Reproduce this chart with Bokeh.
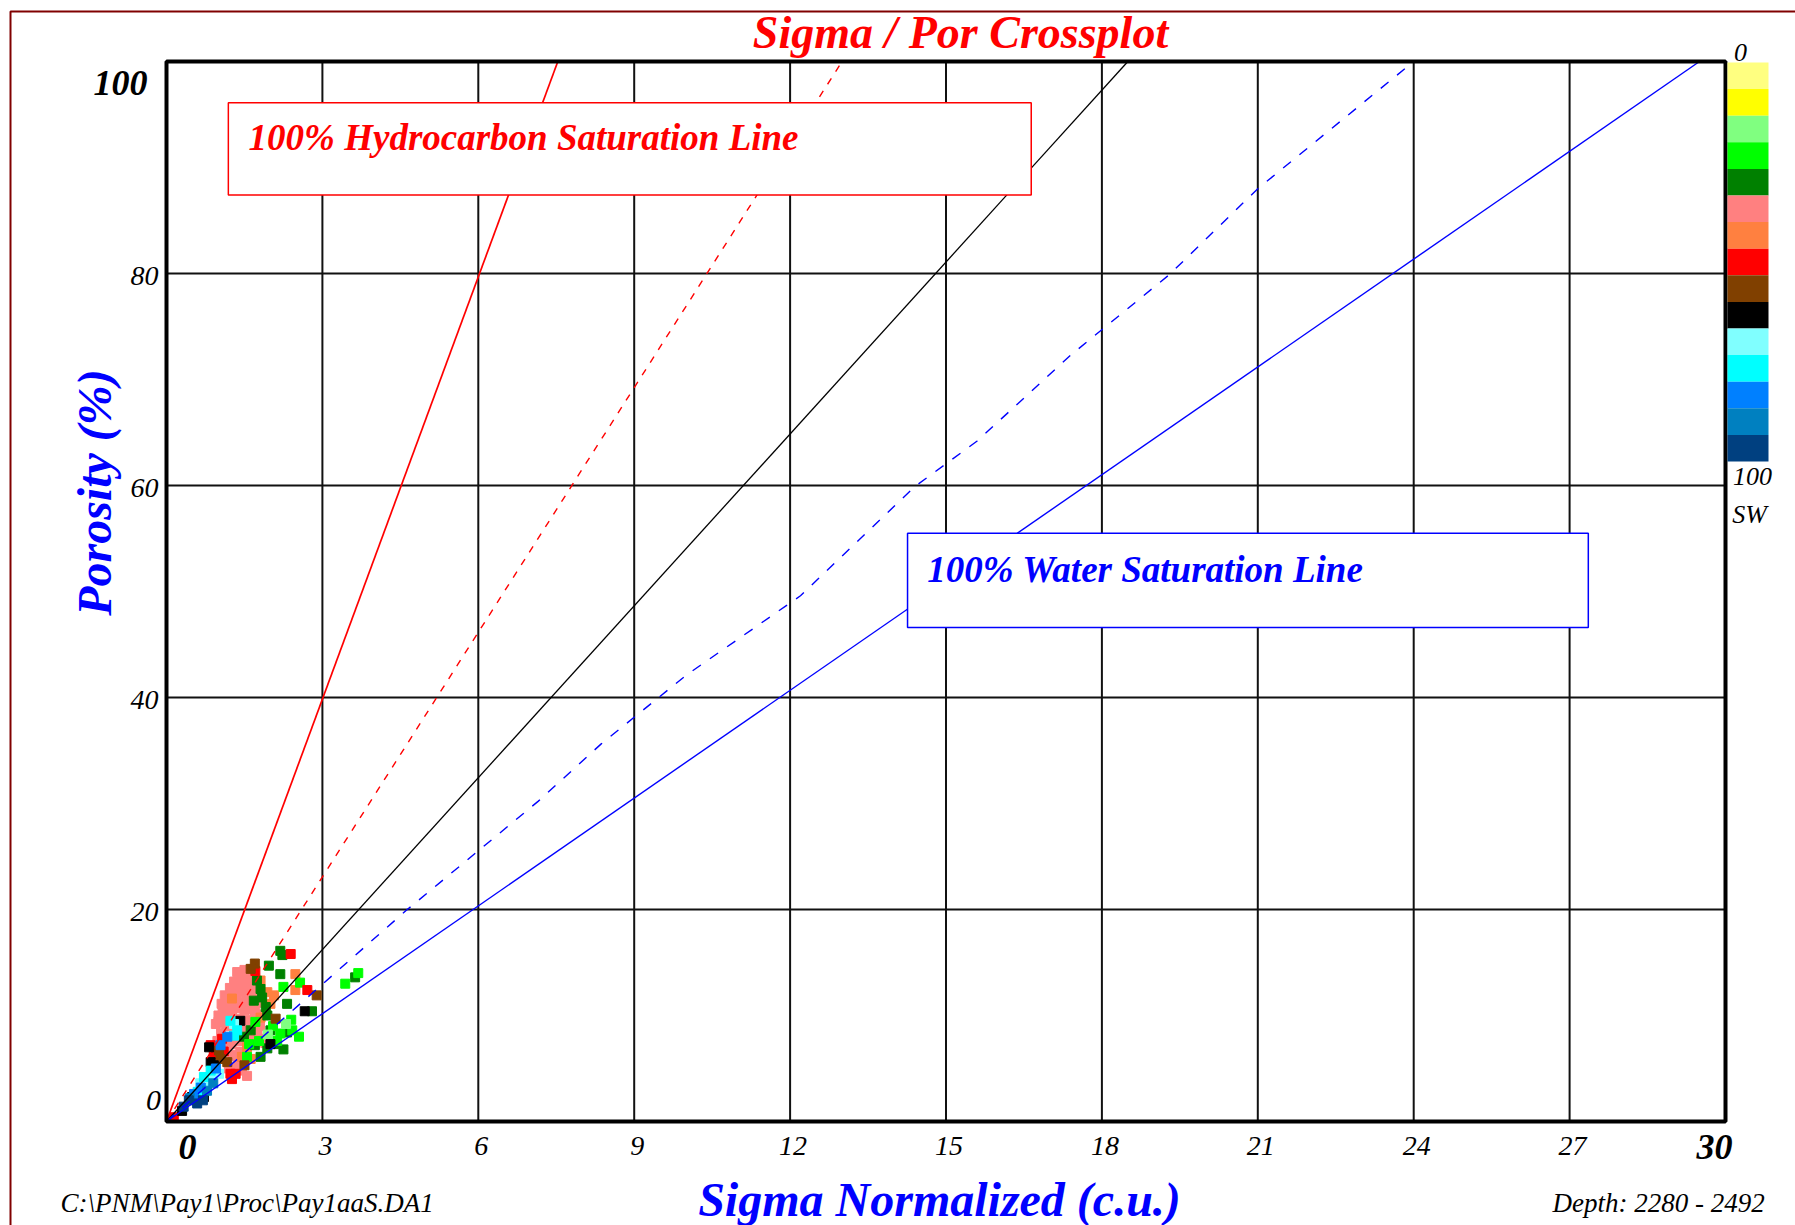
from bokeh.plotting import figure
from bokeh.models import Label, Range1d, ColumnDataSource
from bokeh.core.properties import value
from bokeh.embed import file_html
from bokeh.resources import INLINE
import math

# ---------------- data ----------------
sw_palette = ["#FFFF80", "#FFFF00", "#80FF80", "#00FF00", "#008000",
              "#FF8080", "#FF8040", "#FF0000", "#804000", "#000000",
              "#80FFFF", "#00FFFF", "#0080FF", "#0080C0", "#004080"]

x_ticks = [3, 6, 9, 12, 15, 18, 21, 24, 27]
x_tick_labels = ["3", "6", "9", "12", "15", "18", "21", "24", "27"]
y_ticks = [20, 40, 60, 80]
y_tick_labels = ["20", "40", "60", "80"]
x_min, x_max = 0, 30
y_min, y_max = 0, 100

# crossplot samples: sigma normalized (c.u.), porosity (%), SW class (index into sw_palette)
sigma = [1.30, 1.45, 1.58, 1.22, 1.36, 1.50, 1.64, 1.12, 1.26, 1.40, 1.54, 1.68, 1.06, 1.20,
         1.34, 1.48, 1.62, 1.76, 1.08, 1.22, 1.36, 1.50, 1.64, 1.12, 1.26, 1.40, 1.55, 1.70,
         1.14, 1.30, 1.46, 1.60, 1.75, 1.86, 1.90, 1.38, 1.25, 1.45, 1.55, 1.05, 0.98,
         1.00, 1.18, 1.33, 1.52, 1.42, 1.28, 1.16, 1.02, 1.36, 1.50, 1.66, 1.80,
         1.00, 0.95, 1.70, 1.85, 1.80, 1.40, 1.25, 1.55, 1.65, 1.35, 1.20,
         1.81, 1.94, 2.00, 1.26, 2.07, 1.81, 1.45, 1.62, 2.48, 2.48, 1.55,
         1.74, 1.81, 1.84, 1.91, 1.94, 1.68, 2.00, 2.07, 1.94, 1.81, 1.62, 1.49, 2.19, 2.23,
         1.97, 2.19, 2.32, 2.80, 2.32, 2.25, 3.63, 1.70,
         1.71, 1.78, 1.59, 2.19, 1.55, 2.57, 2.25, 2.42, 2.55, 2.13, 3.44, 3.69, 2.05, 2.40,
         1.95, 2.30,
         1.71, 2.71, 1.07, 0.85, 0.91, 1.33, 1.26, 1.23, 1.10, 0.14, 2.39,
         1.70, 1.62, 2.89, 2.10, 1.04, 1.01, 1.17, 1.50,
         2.66, 1.42, 0.85, 0.91, 0.82, 0.49, 0.72, 0.59, 0.30, 2.00,
         0.85, 0.65, 1.01, 0.75, 1.30,
         1.23, 1.36, 0.72, 0.85, 1.30, 0.60,
         0.66, 0.53, 1.04, 1.17, 0.95,
         0.78, 0.45, 0.90,
         0.43, 0.59, 0.33, 0.70]
porosity = [13.2, 13.5, 13.4, 12.6, 12.8, 12.9, 12.7, 11.9, 12.0, 12.2, 12.1, 12.0, 11.1, 11.3,
            11.4, 11.3, 11.5, 11.2, 10.4, 10.6, 10.7, 10.5, 10.6, 9.8, 9.9, 9.7, 9.6, 9.9,
            9.0, 8.8, 8.7, 8.9, 8.4, 7.8, 7.4, 5.4, 4.6, 4.8, 4.3, 8.3, 7.6,
            9.4, 7.9, 7.8, 7.6, 6.6, 6.3, 6.9, 6.0, 14.1, 14.3, 13.9, 12.9,
            10.0, 9.2, 10.4, 10.1, 9.0, 7.6, 7.3, 8.0, 7.7, 6.2, 5.0,
            13.3, 12.2, 11.1, 11.6, 11.9, 9.8, 6.1, 5.9, 13.9, 12.4, 7.0,
            13.3, 12.5, 11.7, 10.8, 10.0, 11.4, 8.6, 7.3, 6.9, 6.1, 8.6, 8.0, 16.1, 15.7,
            14.7, 13.9, 11.1, 10.4, 8.4, 6.8, 13.6, 7.2,
            9.4, 7.6, 7.3, 8.3, 6.1, 13.1, 12.7, 8.6, 8.0, 7.6, 13.0, 14.0, 9.0, 9.6,
            8.2, 9.2,
            14.2, 12.4, 7.8, 7.2, 6.4, 4.5, 4.0, 4.5, 6.6, 0.4, 15.8,
            14.9, 14.4, 11.9, 9.7, 5.9, 6.7, 5.6, 5.3,
            10.4, 9.5, 5.6, 5.3, 7.0, 2.3, 2.3, 2.0, 1.0, 7.3,
            3.9, 3.6, 4.5, 3.2, 9.2,
            9.5, 8.6, 4.2, 4.8, 8.1, 2.8,
            3.2, 2.6, 7.2, 8.0, 5.0,
            2.9, 2.2, 3.6,
            2.0, 1.7, 1.4, 2.0]
sw_class = [5] * 64 + [6] * 11 + [4] * 22 + [3] * 14 + [2] * 2 + [7] * 11 + [8] * 8 + \
           [9] * 10 + [10] * 5 + [11] * 6 + [12] * 5 + [13] * 3 + [14] * 4

# interpretation lines (sigma, porosity)
hc_sat_sigma = [0, 7.53]
hc_sat_por = [0, 100]
red_dash_sigma = [0, 13.0]
red_dash_por = [0, 100]
mid_line_sigma = [0, 18.5]
mid_line_por = [0, 100]
blue_dash_sigma = [0, 4.61, 7.15, 8.36, 10.0, 12.2, 14.4, 15.6, 17.4, 19.3, 21.0, 24.0]
blue_dash_por = [0, 19.9, 30.2, 35.6, 42.1, 49.6, 59.9, 64.2, 72.3, 79.9, 88.0, 100]
water_sat_sigma = [0, 29.5]
water_sat_por = [0, 100]

# ---------------- layout (canvas pixels of the plot box) ----------------
W, H = 1795, 1225
BOX_L, BOX_R, BOX_T, BOX_B = 166, 1725, 61, 1121
ppx = (BOX_R - BOX_L) / (x_max - x_min)
ppy = (BOX_B - BOX_T) / (y_max - y_min)

def X(px):
    return x_min + (px - BOX_L) / ppx

def Y(py):
    return y_min + (BOX_B - py) / ppy

p = figure(width=W, height=H, x_range=Range1d(X(0), X(W)), y_range=Range1d(Y(H), Y(0)),
           output_backend="svg", toolbar_location=None,
           x_axis_location=None, y_axis_location=None, min_border=0)
p.background_fill_color = "white"
p.border_fill_color = "white"
p.outline_line_color = None
p.xgrid.visible = False
p.ygrid.visible = False

# grid
p.segment(x0=x_ticks, y0=[y_min] * len(x_ticks), x1=x_ticks, y1=[y_max] * len(x_ticks),
          line_color="#111111", line_width=2)
p.segment(x0=[x_min] * len(y_ticks), y0=y_ticks, x1=[x_max] * len(y_ticks), y1=y_ticks,
          line_color="#111111", line_width=2)

# samples
src = ColumnDataSource(dict(x=sigma, y=porosity, c=[sw_palette[i] for i in sw_class]))
p.scatter("x", "y", source=src, marker="square", size=9, fill_color="c", line_color="c")

# lines
p.line(hc_sat_sigma, hc_sat_por, line_color="#FF0000", line_width=1.7)
p.line(red_dash_sigma, red_dash_por, line_color="#FF0000", line_width=1.4, line_dash="7 8")
p.line(mid_line_sigma, mid_line_por, line_color="black", line_width=1.3)
p.line(blue_dash_sigma, blue_dash_por, line_color="#0000FF", line_width=1.4, line_dash="10 11")
p.line(water_sat_sigma, water_sat_por, line_color="#0000FF", line_width=1.4)

# annotation boxes
p.quad(left=[1.19], right=[16.64], top=[96.1], bottom=[87.4], fill_color="white",
       line_color="#FF0000", line_width=1.5)
p.quad(left=[14.26], right=[27.36], top=[55.5], bottom=[46.6], fill_color="white",
       line_color="#0000FF", line_width=1.5)

# plot box
p.quad(left=[x_min], right=[x_max], bottom=[y_min], top=[y_max], fill_color=None,
       line_color="black", line_width=4)

# tick labels
p.text(x=x_ticks, y=[Y(1145)] * len(x_ticks), text=x_tick_labels, x_offset=3,
       text_font=value("Liberation Serif"), text_font_style="italic", text_font_size="28px",
       text_color="black", text_align="center", text_baseline="middle")
p.text(x=[X(158)] * len(y_ticks), y=y_ticks, text=y_tick_labels, y_offset=2,
       text_font=value("Liberation Serif"), text_font_style="italic", text_font_size="28px",
       text_color="black", text_align="right", text_baseline="middle")

def lab(x, y, text, size, color="black", style="italic", align="left", baseline="middle", angle=0.0):
    p.add_layout(Label(x=x, y=y, text=text, text_font="Liberation Serif", text_font_style=style,
                       text_font_size=size, text_color=color, text_align=align,
                       text_baseline=baseline, angle=angle))

lab(X(187), Y(1146), "0", "36px", "black", "bold italic", "center")
lab(X(1714), Y(1146), "30", "36px", "black", "bold italic", "center")
lab(X(120), Y(82), "100", "36px", "black", "bold italic", "center")
lab(X(153), Y(1100), "0", "30px", "black", "italic", "center")

lab(1.58, 92.8, "100% Hydrocarbon Saturation Line", "37px", "#FF0000", "bold italic")
lab(14.64, 52.1, "100% Water Saturation Line", "37px", "#0000FF", "bold italic")

# title / axis titles
lab(X(960), Y(32), "Sigma / Por Crossplot", "46px", "#FF0000", "bold italic", "center")
lab(X(945), Y(1199), "Sigma  Normalized (c.u.)", "48px", "#0000FF", "bold italic", "center")
lab(X(94), Y(492), "Porosity (%)", "48px", "#0000FF", "bold italic", "center", angle=math.pi / 2)

# footer texts
lab(X(60), Y(1202), "C:\\PNM\\Pay1\\Proc\\Pay1aaS.DA1", "27px", "black", "italic", "left", "alphabetic")
lab(X(1552), Y(1202), "Depth:  2280 -  2492", "27px", "black", "italic", "left", "alphabetic")

# SW colour bar (SW 0 at top, 100 at bottom)
n = len(sw_palette)
cb_top, cb_bot = Y(62), Y(461)
step = (cb_top - cb_bot) / n
p.quad(left=[X(1727)] * n, right=[X(1768)] * n,
       top=[cb_top - i * step for i in range(n)], bottom=[cb_top - (i + 1) * step for i in range(n)],
       fill_color=sw_palette, line_color=None)
lab(X(1740), Y(52), "0", "26px", "black", "italic", "center")
lab(X(1752), Y(476), "100", "26px", "black", "italic", "center")
lab(X(1749), Y(514), "SW", "26px", "black", "italic", "center")

# outer frame
p.quad(left=[X(10)], right=[X(W + 20)], top=[Y(11)], bottom=[Y(H + 20)], fill_color=None,
       line_color="#800000", line_width=2)

open("out.html", "w").write(file_html(p, INLINE))
